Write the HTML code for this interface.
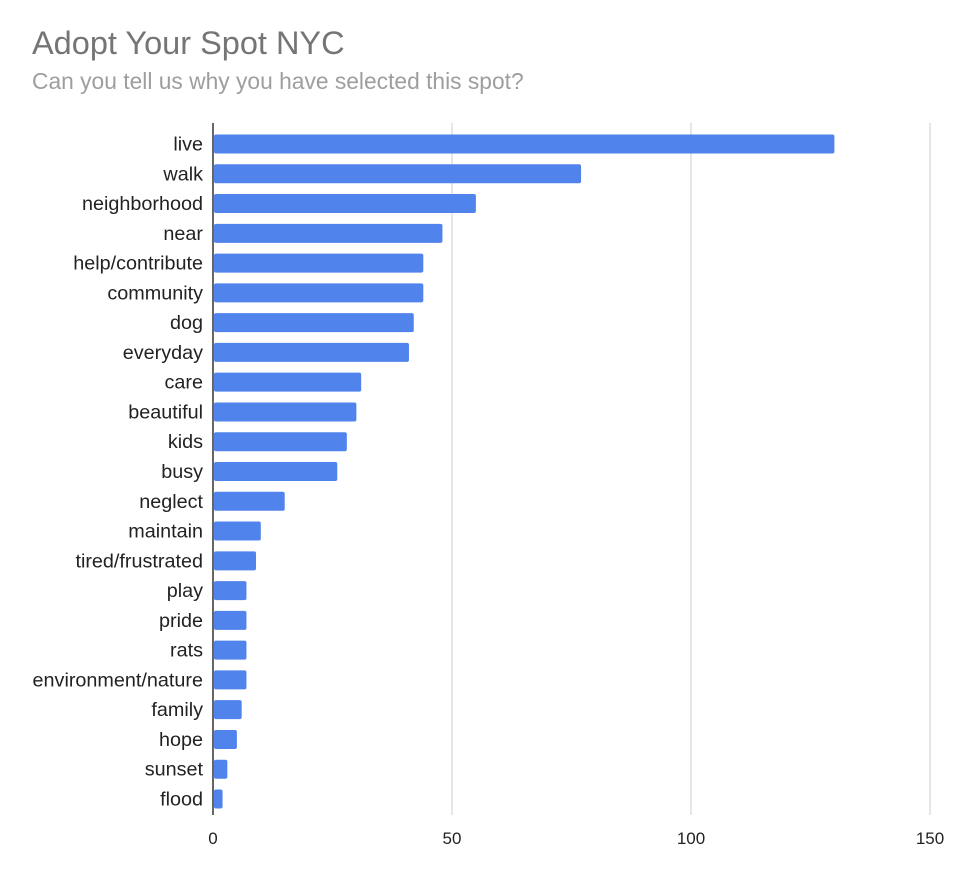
<!DOCTYPE html>
<html><head><meta charset="utf-8"><style>
body{margin:0;background:#fff;}
svg{display:block;font-family:"Liberation Sans",Arial,sans-serif;}
</style></head><body>
<svg id="chart" width="960" height="885">
<text x="32" y="54" font-size="32.5" fill="#757575">Adopt Your Spot NYC</text>
<text x="32" y="89" font-size="22.8" fill="#9e9e9e">Can you tell us why you have selected this spot?</text>
<g id="grid"></g><g id="bars"></g><g id="labels"></g><g id="ticks"></g>
</svg>
<script>
const categories=["live","walk","neighborhood","near","help/contribute","community","dog","everyday","care","beautiful","kids","busy","neglect","maintain","tired/frustrated","play","pride","rats","environment/nature","family","hope","sunset","flood"];
const values=[130,77,55,48,44,44,42,41,31,30,28,26,15,10,9,7,7,7,7,6,5,3,2];
const tickValues=[0,50,100,150];
const NS="http://www.w3.org/2000/svg";
const x0=213,pxPer=(930-213)/150,top0=144,step=(799-144)/22,bh=19,plotTop=123,plotBot=815;
const xs=v=>x0+v*pxPer, ys=i=>top0+i*step;
function mk(t,a,p){const e=document.createElementNS(NS,t);for(const k in a)e.setAttribute(k,a[k]);p.appendChild(e);return e;}
const g=document.getElementById('grid'),b=document.getElementById('bars'),l=document.getElementById('labels'),tk=document.getElementById('ticks');
tickValues.forEach(v=>{
 const ln=mk('line',{x1:xs(v),x2:xs(v),y1:plotTop,y2:plotBot,stroke:v===0?'#333':'#ccc','stroke-width':v===0?1.5:1},g);
 
 
 const t=mk('text',{x:xs(v),y:844,'text-anchor':'middle','font-size':17,fill:'#222'},tk);t.textContent=v;
 
 
});
categories.forEach((c,i)=>{
 const r=mk('rect',{x:x0+1,y:ys(i)-bh/2,width:Math.max(0,xs(values[i])-x0-1),height:bh,rx:2,fill:'#5083ec'},b);
 
 
 const t=mk('text',{x:203,y:ys(i)+6.5,'text-anchor':'end','font-size':19.8,fill:'#222'},l);t.textContent=c;
 
 
});
</script>
</body></html>
